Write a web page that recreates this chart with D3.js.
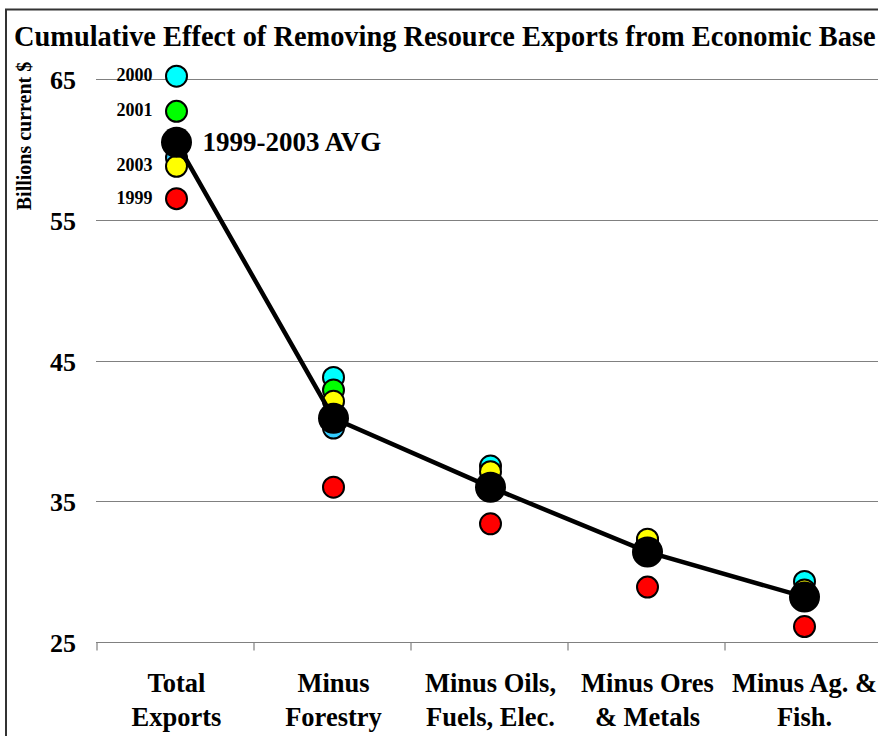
<!DOCTYPE html>
<html>
<head>
<meta charset="utf-8">
<script src="https://cdn.jsdelivr.net/npm/d3@7"></script>
<style>
  html, body { margin: 0; padding: 0; background: #fff; }
  svg text { font-family: "Liberation Serif", "Times New Roman", serif; font-weight: bold; fill: #000; }
</style>
</head>
<body>
<svg id="chart"></svg>
<script>
// categories along the x axis (two text lines each)
var categories = ["Total Exports", "Minus Forestry", "Minus Oils, Fuels, Elec.", "Minus Ores & Metals", "Minus Ag. & Fish."];
var categoryLines = [["Total", "Exports"], ["Minus", "Forestry"], ["Minus Oils,", "Fuels, Elec."], ["Minus Ores", "& Metals"], ["Minus Ag. &", "Fish."]];

// billions current $, per year
var years = ["1999", "2000", "2001", "2002", "2003"];
var v1999 = [56.5, 36.0, 33.4, 28.9, 26.1];
var v2000 = [65.2, 43.8, 37.5, 32.2, 29.3];
var v2001 = [62.7, 42.9, 36.3, 31.8, 28.6];
var v2002 = [59.4, 40.2, 35.9, 31.8, 28.4];
var v2003 = [58.8, 42.1, 37.1, 32.3, 28.7];
var avg = [60.5, 40.9, 36.0, 31.4, 28.2];
var yearColors = ["#ff0000", "#00ffff", "#00ff00", "#33ccff", "#ffff00"];
var labelledYears = ["2000", "2001", "2003", "1999"];
var yTicks = [25, 35, 45, 55, 65];

var width = 878, height = 736;
var svg = d3.select("#chart").attr("width", width).attr("height", height);

var x = d3.scaleBand().domain(categories).range([97, 882]).padding(0);
var y = d3.scaleLinear().domain([25, 65]).range([642, 79]);
var cx = function(c) { return x(c) + x.bandwidth() / 2 + 1; };

// outer frame
svg.append("rect").attr("x", 6).attr("y", 9.5).attr("width", 900).attr("height", 800)
   .attr("fill", "none").attr("stroke", "#333").attr("stroke-width", 2);

// title
svg.append("text").attr("x", 14).attr("y", 46).attr("font-size", 28.4)
   .text("Cumulative Effect of Removing Resource Exports from Economic Base");

// gridlines
svg.append("g").selectAll("line").data(yTicks.filter(function(d) { return d > 25; })).enter().append("line")
   .attr("x1", 96).attr("x2", width).attr("y1", function(d) { return Math.round(y(d)) + 0.5; })
   .attr("y2", function(d) { return Math.round(y(d)) + 0.5; })
   .attr("stroke", "#808080").attr("stroke-width", 1.2);

// x axis
var xAxis = d3.axisBottom(x).tickSize(8).tickFormat("").tickSizeOuter(0);
var gx = svg.append("g").attr("transform", "translate(0," + (Math.round(y(25)) + 0.5) + ")").call(xAxis);
gx.select(".domain").attr("stroke", "#808080").attr("stroke-width", 1.2).attr("d", "M96,0H" + width);
gx.selectAll(".tick line").attr("stroke", "#808080").attr("stroke-width", 1.2)
  .attr("transform", function() { return "translate(" + (-x.bandwidth() / 2) + ",0)"; });

// category labels
categories.forEach(function(c, i) {
  var t = svg.append("text").attr("text-anchor", "middle").attr("font-size", 26.5);
  categoryLines[i].forEach(function(line, j) {
    t.append("tspan").attr("x", cx(c)).attr("y", 692 + j * 34).text(line);
  });
});

// y tick labels
svg.append("g").selectAll("text").data(yTicks).enter().append("text")
   .attr("x", 76).attr("y", function(d) { return y(d) + 10; })
   .attr("text-anchor", "end").attr("font-size", 26)
   .text(function(d) { return d; });

// y axis title
svg.append("text").attr("transform", "translate(31,136) rotate(-90)")
   .attr("text-anchor", "middle").attr("font-size", 20)
   .text("Billions current $");

// year markers
var yearSeries = [v1999, v2000, v2001, v2002, v2003];
yearSeries.forEach(function(vals, k) {
  svg.append("g").selectAll("circle").data(vals).enter().append("circle")
     .attr("cx", function(d, i) { return cx(categories[i]); })
     .attr("cy", function(d) { return y(d); })
     .attr("r", 10.5)
     .attr("fill", yearColors[k]).attr("stroke", "#000").attr("stroke-width", 2);
});

// average line
var line = d3.line().x(function(d, i) { return cx(categories[i]); }).y(function(d) { return y(d); });
svg.append("path").datum(avg).attr("d", line)
   .attr("fill", "none").attr("stroke", "#000").attr("stroke-width", 4.5);
svg.append("g").selectAll("circle").data(avg).enter().append("circle")
   .attr("cx", function(d, i) { return cx(categories[i]); })
   .attr("cy", function(d) { return y(d); })
   .attr("r", 15.5).attr("fill", "#000");

// year labels on first category
labelledYears.forEach(function(yr) {
  var k = years.indexOf(yr);
  svg.append("text").attr("x", cx(categories[0]) - 24).attr("y", y(yearSeries[k][0]) + 5)
     .attr("text-anchor", "end").attr("font-size", 18).text(yr);
});

svg.append("text").attr("x", cx(categories[0]) + 26).attr("y", y(avg[0]) + 9)
   .attr("font-size", 27).text("1999-2003 AVG");
</script>
</body>
</html>
